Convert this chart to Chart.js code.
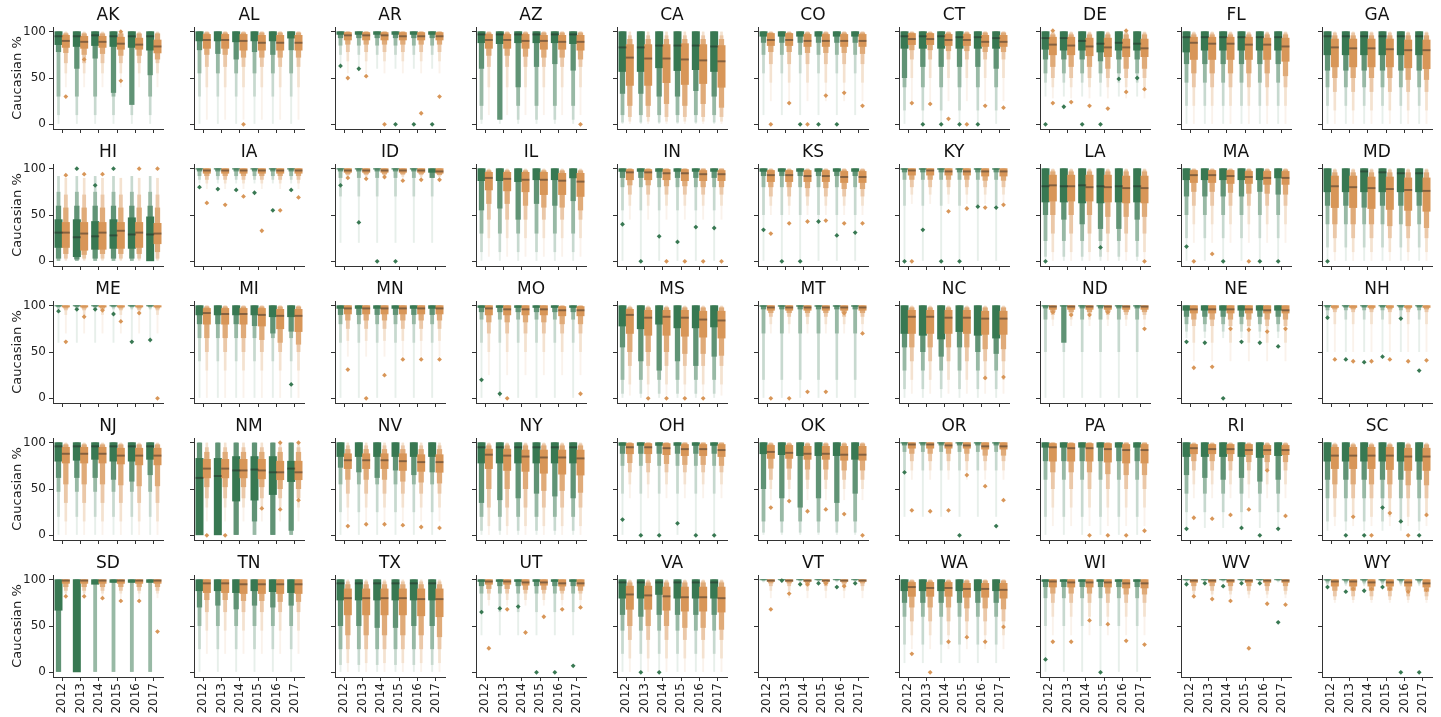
<!DOCTYPE html>
<html>
<head>
<meta charset="utf-8">
<script src="https://cdn.jsdelivr.net/npm/chart.js@4.4.1/dist/chart.umd.min.js"></script>
<style>
  body { margin: 0; background: #fff; }
  #wrap { position: relative; width: 1441px; height: 717px; overflow: hidden; background: #fff; }
  #wrap canvas { position: absolute; }
</style>
</head>
<body>
<div id="wrap"></div>
<script>
const states = ['AK','AL','AR','AZ','CA','CO','CT','DE','FL','GA',
                'HI','IA','ID','IL','IN','KS','KY','LA','MA','MD',
                'ME','MI','MN','MO','MS','MT','NC','ND','NE','NH',
                'NJ','NM','NV','NY','OH','OK','OR','PA','RI','SC',
                'SD','TN','TX','UT','VA','VT','WA','WI','WV','WY'];
const years = ['2012','2013','2014','2015','2016','2017'];
const yTicks = [0, 50, 100];

// per state, per year: [level-2 low, box low, median, box high]
const greenBox = [
  [[78,86,95,100],[60,84,95,100],[71,85,96,100],[34,84,95,100],[21,83,95,100],[53,80,95,100]], // AK
  [[80,90,100,100],[76,90,100,100],[70,89,100,100],[78,90,100,100],[75,90,100,100],[80,93,100,100]], // AL
  [[93,97,100,100],[93,97,100,100],[93,97,100,100],[93,97,100,100],[93,97,100,100],[93,97,100,100]], // AR
  [[60,88,97,100],[5,87,97,100],[40,88,97,100],[62,88,97,100],[65,88,97,100],[58,87,97,100]], // AZ
  [[33,57,83,100],[33,57,83,100],[30,61,85,100],[30,58,85,100],[36,59,85,100],[30,57,84,100]], // CA
  [[88,95,100,100],[88,95,100,100],[88,95,100,100],[88,95,100,100],[88,95,100,100],[88,95,100,100]], // CO
  [[50,82,95,100],[62,82,95,100],[62,82,95,100],[62,82,94,100],[62,82,94,100],[60,82,93,100]], // CT
  [[70,81,93,100],[70,80,93,100],[70,80,90,100],[68,78,87,100],[70,80,88,100],[70,80,87,100]], // DE
  [[65,78,94,100],[65,80,94,100],[65,80,94,100],[65,80,94,100],[65,80,94,100],[65,80,94,100]], // FL
  [[58,75,95,100],[58,75,95,100],[58,75,95,100],[58,75,95,100],[58,75,95,100],[58,75,95,100]], // GA
  [[3,15,31,45],[2,5,26,45],[3,13,27,43],[3,14,28,45],[3,14,29,47],[0,0,29,48]], // HI
  [[97,99.5,100,100],[97,99.5,100,100],[97,99.5,100,100],[97,99.5,100,100],[97,99.5,100,100],[97,99.5,100,100]], // IA
  [[97,99.5,100,100],[97,99.5,100,100],[97,99.5,100,100],[97,99.5,100,100],[97,99.5,100,100],[90,96,100,100]], // ID
  [[55,87,100,100],[57,87,100,100],[45,86,100,100],[62,88,100,100],[60,88,100,100],[65,90,100,100]], // IL
  [[90,97,100,100],[90,97,100,100],[90,97,100,100],[90,97,100,100],[90,97,100,100],[90,97,100,100]], // IN
  [[92,97,100,100],[92,97,100,100],[92,97,100,100],[92,97,100,100],[92,97,100,100],[92,97,100,100]], // KS
  [[96,99.3,100,100],[96,99.3,100,100],[96,99.3,100,100],[96,99.3,100,100],[96,99.3,100,100],[96,99.3,100,100]], // KY
  [[50,64,81,100],[45,64,81,100],[40,63,82,100],[35,63,81,100],[35,64,81,100],[45,64,81,100]], // LA
  [[70,88,100,100],[70,88,100,100],[70,88,100,100],[70,88,100,100],[75,88,100,100],[72,90,100,100]], // MA
  [[60,75,100,100],[60,75,100,100],[58,75,97,100],[60,75,96,100],[60,75,95,100],[60,75,95,100]], // MD
  [[99,99.7,100,100],[99,99.7,100,100],[99,99.7,100,100],[99,99.7,100,100],[99,99.7,100,100],[99,99.7,100,100]], // ME
  [[80,90,100,100],[80,90,100,100],[80,90,100,100],[78,90,100,100],[70,88,100,100],[72,88,100,100]], // MI
  [[90,97,100,100],[90,97,100,100],[90,97,100,100],[90,97,100,100],[90,97,100,100],[90,97,100,100]], // MN
  [[93,98,100,100],[93,98,100,100],[93,98,100,100],[93,98,100,100],[93,98,100,100],[93,98,100,100]], // MO
  [[55,78,100,100],[40,75,100,100],[30,80,100,100],[40,76,100,100],[35,76,100,100],[45,77,100,100]], // MS
  [[96,99.3,100,100],[96,99.3,100,100],[96,99.3,100,100],[96,99.3,100,100],[96,99.3,100,100],[96,99.3,100,100]], // MT
  [[55,70,100,100],[50,68,100,100],[45,64,100,100],[55,72,100,100],[50,68,100,100],[48,65,100,100]], // NC
  [[97,99.5,100,100],[60,99.5,100,100],[97,99.5,100,100],[97,99.5,100,100],[97,99.5,100,100],[97,99.5,100,100]], // ND
  [[88,95,100,100],[88,95,100,100],[88,95,100,100],[88,95,100,100],[88,95,100,100],[88,95,100,100]], // NE
  [[98,99.7,100,100],[98,99.7,100,100],[98,99.7,100,100],[98,99.7,100,100],[98,99.7,100,100],[98,99.7,100,100]], // NH
  [[62,80,96,100],[62,81,96,100],[62,82,96,100],[60,80,96,100],[58,80,96,100],[65,82,96,100]], // NJ
  [[0,0,62,83],[0,0,64,83],[0,37,70,85],[15,38,71,85],[0,44,68,85],[5,58,72,80]], // NM
  [[73,85,100,100],[68,85,100,100],[62,85,100,100],[70,85,100,100],[65,85,100,100],[68,85,100,100]], // NV
  [[35,78,95,100],[38,78,95,100],[40,78,95,100],[45,78,95,100],[42,78,95,100],[40,78,95,100]], // NY
  [[88,97,100,100],[88,97,100,100],[88,97,100,100],[88,97,100,100],[88,97,100,100],[88,97,100,100]], // OH
  [[50,88,100,100],[40,87,100,100],[30,86,100,100],[40,86,100,100],[35,86,100,100],[45,82,100,100]], // OK
  [[97,99.5,100,100],[97,99.5,100,100],[97,99.5,100,100],[97,99.5,100,100],[97,99.5,100,100],[97,99.5,100,100]], // OR
  [[80,95,100,100],[80,95,100,100],[80,95,100,100],[80,95,100,100],[80,95,100,100],[80,95,100,100]], // PA
  [[65,85,100,100],[62,85,100,100],[60,85,100,100],[62,85,100,100],[58,84,100,100],[60,86,100,100]], // RI
  [[60,80,100,100],[60,80,100,100],[60,80,100,100],[60,80,100,100],[60,80,100,100],[60,80,100,100]], // SC
  [[0,67,100,100],[0,0,100,100],[97,95,100,100],[97,97,100,100],[97,97,100,100],[97,97,100,100]], // SD
  [[70,88,100,100],[72,88,100,100],[68,86,100,100],[72,88,100,100],[70,87,100,100],[72,86,100,100]], // TN
  [[50,78,96,100],[50,78,96,100],[48,78,96,100],[48,78,96,100],[50,78,96,100],[50,78,96,100]], // TX
  [[93,98,100,100],[93,98,100,100],[93,98,100,100],[93,98,100,100],[93,98,100,100],[93,98,100,100]], // UT
  [[62,80,97,100],[60,80,97,100],[62,84,97,100],[62,80,97,100],[62,80,97,100],[62,80,97,100]], // VA
  [[99.5,99.8,100,100],[99.5,99.8,100,100],[99.5,99.8,100,100],[99.5,99.8,100,100],[99.5,99.8,100,100],[99.5,99.8,100,100]], // VT
  [[75,88,100,100],[75,88,100,100],[75,88,100,100],[75,88,100,100],[75,88,100,100],[75,88,100,100]], // WA
  [[92,98,100,100],[92,98,100,100],[92,98,100,100],[92,98,100,100],[92,98,100,100],[92,98,100,100]], // WI
  [[99.5,99.8,100,100],[99.5,99.8,100,100],[99.5,99.8,100,100],[99.5,99.8,100,100],[99.5,99.8,100,100],[99.5,99.8,100,100]], // WV
  [[99,99.7,100,100],[99,99.7,100,100],[99,99.7,100,100],[99,99.7,100,100],[99,99.7,100,100],[99,99.7,100,100]] // WY
];
// per state: [level-3 low, level-4 low, min, level-2 high, level-3 high, max]
const greenTail = [
  [30,10,0,100,100,100],[55,30,0,100,100,100],[85,75,60,100,100,100],[20,5,0,100,100,100],[10,2,0,100,100,100],
  [75,55,10,100,100,100],[40,15,0,100,100,100],[55,45,30,100,100,100],[45,20,0,100,100,100],[40,20,0,100,100,100],
  [0,0,0,60,75,92],[92,88,84,100,100,100],[90,70,20,100,100,100],[30,10,0,100,100,100],[80,55,0,100,100,100],
  [80,50,0,100,100,100],[88,60,0,100,100,100],[22,5,0,100,100,100],[50,25,0,100,100,100],[40,15,0,100,100,100],
  [98,96,60,100,100,100],[65,40,0,100,100,100],[80,60,0,100,100,100],[85,60,0,100,100,100],[20,5,0,100,100,100],
  [70,20,0,100,100,100],[30,10,0,100,100,100],[85,50,0,100,100,100],[80,72,65,100,100,100],[95,85,50,100,100,100],
  [47,20,0,100,100,100],[0,0,0,100,100,100],[55,25,0,100,100,100],[20,5,0,100,100,100],[75,45,0,100,100,100],
  [15,3,0,100,100,100],[90,70,20,100,100,100],[60,20,0,100,100,100],[45,25,8,100,100,100],[40,15,5,100,100,100],
  [0,0,0,100,100,100],[50,25,0,100,100,100],[25,8,0,100,100,100],[85,65,40,100,100,100],[45,20,0,100,100,100],
  [99,98,97,100,100,100],[60,30,10,100,100,100],[80,50,0,100,100,100],[99,98,97,100,100,100],[97,95,93,100,100,100]
];
const orangeBox = [
  [[77,83,90,96],[75,82,89,95],[76,83,89,95],[74,81,87,94],[74,81,86,93],[70,77,84,91]], // AK
  [[75,82,91,97],[75,82,91,97],[72,80,90,97],[72,80,88,96],[72,80,88,96],[72,80,88,96]], // AL
  [[86,91,96,99],[86,91,96,99],[86,91,96,99],[86,91,95,99],[86,91,95,99],[86,91,95,99]], // AR
  [[74,82,91,97],[74,82,91,97],[73,82,90,97],[72,81,90,96],[72,81,89,96],[70,80,89,96]], // AZ
  [[20,42,72,86],[20,42,71,86],[22,45,71,86],[20,43,70,87],[22,44,69,86],[18,40,68,85]], // CA
  [[78,85,91,98],[78,85,91,98],[77,84,90,97],[77,84,90,97],[77,84,90,97],[76,84,90,97]], // CO
  [[80,86,92,98],[80,86,92,98],[79,85,91,97],[79,85,91,97],[78,84,89,96],[78,84,89,96]], // CT
  [[62,75,86,94],[62,75,85,94],[62,74,84,93],[60,73,83,93],[60,73,83,92],[60,73,82,92]], // DE
  [[55,70,88,94],[55,70,87,94],[55,70,87,94],[55,70,86,94],[55,70,86,93],[52,68,84,93]], // FL
  [[50,62,83,92],[50,62,82,92],[50,62,82,92],[50,62,81,92],[48,61,80,91],[48,60,80,91]], // GA
  [[8,15,31,42],[7,12,30,42],[8,13,31,42],[8,14,33,42],[8,15,31,42],[10,19,30,41]], // HI
  [[92,95,98,100],[92,95,98,100],[92,95,98,100],[92,95,98,100],[92,95,98,100],[92,95,98,100]], // IA
  [[94,96,98,100],[94,96,98,100],[94,96,98,100],[94,96,98,100],[94,96,98,100],[93,95,97,100]], // ID
  [[62,77,90,96],[62,76,89,96],[60,75,88,96],[58,72,88,96],[58,72,87,95],[55,70,86,95]], // IL
  [[82,88,96,99],[82,88,96,99],[81,88,95,99],[81,87,95,99],[80,87,94,98],[80,87,94,98]], // IN
  [[80,86,93,98],[80,86,93,98],[79,86,92,98],[79,86,92,98],[78,85,91,97],[78,85,91,97]], // KS
  [[88,93,98,100],[88,93,98,100],[88,93,97,100],[88,93,97,100],[87,92,97,100],[87,92,97,100]], // KY
  [[50,65,82,93],[50,65,81,93],[50,65,80,93],[48,64,80,93],[48,63,79,92],[48,63,79,92]], // LA
  [[75,85,93,98],[75,85,93,98],[74,84,92,98],[73,84,91,97],[73,83,90,97],[72,83,90,97]], // MA
  [[40,58,81,92],[40,58,80,92],[40,57,79,91],[38,56,78,91],[38,55,77,90],[36,54,76,90]], // MD
  [[97,98.5,99.5,100],[97,98.5,99.5,100],[97,98.5,99.5,100],[97,98.5,99.5,100],[97,98.5,99.5,100],[97,98.5,99.5,100]], // ME
  [[65,80,92,97],[65,80,91,97],[65,80,91,97],[63,78,90,97],[60,75,89,96],[58,72,89,96]], // MI
  [[84,91,97,100],[84,91,97,100],[84,91,97,100],[84,91,97,100],[84,91,97,100],[84,91,97,100]], // MN
  [[82,90,97,100],[82,90,96,100],[82,90,96,100],[82,90,96,100],[80,89,95,99],[80,89,95,99]], // MO
  [[50,70,90,96],[50,68,87,95],[50,68,88,95],[48,67,87,95],[48,66,85,94],[46,65,84,94]], // MS
  [[92,95,98,100],[92,95,98,100],[92,95,98,100],[92,95,98,100],[92,95,98,100],[92,95,98,100]], // MT
  [[55,70,88,95],[55,70,88,95],[55,70,87,95],[55,70,87,95],[53,69,86,94],[53,69,86,94]], // NC
  [[93,96,99,100],[93,96,99,100],[93,96,99,100],[93,96,99,100],[93,96,99,100],[93,96,99,100]], // ND
  [[85,92,96,100],[85,92,96,100],[85,92,96,100],[85,92,96,100],[85,92,95,100],[85,92,95,100]], // NE
  [[96,98,99.5,100],[96,98,99.5,100],[96,98,99.5,100],[96,98,99.5,100],[96,98,99.5,100],[96,98,99.5,100]], // NH
  [[55,78,88,95],[55,78,88,95],[55,78,88,95],[54,77,86,94],[53,76,86,94],[53,76,86,94]], // NJ
  [[52,62,72,82],[52,62,72,82],[52,62,70,82],[52,61,70,82],[50,60,68,80],[50,60,68,80]], // NM
  [[60,72,81,88],[60,72,81,88],[60,72,81,88],[58,70,80,88],[57,69,79,87],[56,68,79,87]], // NV
  [[50,72,87,93],[50,70,86,93],[50,69,85,92],[48,67,84,92],[48,66,84,92],[46,65,83,92]], // NY
  [[78,88,95,99],[78,88,95,99],[77,87,94,99],[76,86,93,98],[76,86,93,98],[75,85,92,98]], // OH
  [[72,83,90,97],[72,83,89,97],[71,82,88,96],[71,82,88,96],[70,81,87,96],[70,81,87,96]], // OK
  [[88,94,98,100],[88,94,98,100],[88,94,97,100],[88,94,97,100],[86,93,96,100],[86,93,96,100]], // OR
  [[68,80,95,99],[68,80,94,99],[68,80,94,99],[66,79,93,99],[65,78,92,98],[65,78,92,98]], // PA
  [[80,88,94,98],[80,88,93,98],[80,88,93,98],[79,87,92,98],[79,87,92,97],[79,87,92,97]], // RI
  [[55,72,86,95],[55,72,86,95],[55,72,86,95],[55,71,86,95],[54,70,85,94],[54,70,85,94]], // SC
  [[92,96,99,100],[92,96,99,100],[92,96,99,100],[92,96,99,100],[92,96,99,100],[92,96,99,100]], // SD
  [[78,86,96,100],[78,86,96,100],[77,85,95,100],[77,85,95,100],[76,85,95,100],[76,85,95,100]], // TN
  [[40,62,80,90],[40,62,80,90],[40,62,80,90],[40,62,80,90],[40,61,79,90],[38,60,79,90]], // TX
  [[90,95,98,100],[90,95,98,100],[89,94,97,100],[89,94,97,100],[88,93,96,100],[88,93,96,100]], // UT
  [[50,68,84,93],[50,68,83,93],[50,67,82,92],[48,66,81,92],[48,66,81,92],[46,65,80,92]], // VA
  [[96,98,99,100],[96,98,99,100],[96,98,99,100],[96,98,99,100],[96,98,99,100],[96,98,99,100]], // VT
  [[70,82,92,97],[70,82,91,97],[70,82,91,97],[69,81,90,96],[69,81,90,96],[68,80,89,96]], // WA
  [[85,92,98,100],[85,92,97,100],[85,92,97,100],[85,92,97,100],[84,91,96,100],[84,91,96,100]], // WI
  [[93,97,99,100],[93,97,99,100],[93,97,99,100],[93,97,99,100],[93,97,99,100],[93,97,99,100]], // WV
  [[88,93,98,100],[88,93,98,100],[88,93,97,100],[88,93,97,100],[88,93,97,100],[87,92,96,100]] // WY
];
const orangeTail = [
  [66,55,40,98,99,100],[62,40,5,99,100,100],[78,68,55,100,100,100],[62,40,10,99,100,100],[8,3,0,92,96,100],
  [65,45,25,99,100,100],[70,50,25,99,100,100],[50,40,28,97,99,100],[40,20,0,97,99,100],[35,15,0,96,99,100],
  [3,1,0,58,72,90],[88,84,78,100,100,100],[93,91,89,100,100,100],[45,25,5,98,99,100],[72,60,45,100,100,100],
  [70,60,50,99,100,100],[80,72,62,100,100,100],[30,10,0,97,99,100],[60,40,20,99,100,100],[25,10,0,96,99,100],
  [95,90,70,100,100,100],[50,30,0,99,100,100],[75,62,45,100,100,100],[70,50,25,100,100,100],[35,15,3,98,99,100],
  [88,80,70,100,100,100],[40,20,5,98,99,100],[90,85,78,100,100,100],[78,60,40,100,100,100],[93,80,50,100,100,100],
  [35,15,0,98,99,100],[40,30,15,90,95,100],[45,30,15,93,97,100],[30,10,0,97,99,100],[68,55,40,100,100,100],
  [60,50,38,99,100,100],[80,70,60,100,100,100],[50,30,10,100,100,100],[70,55,40,99,100,100],[40,20,10,98,99,100],
  [88,85,80,100,100,100],[65,45,20,100,100,100],[25,10,0,95,98,100],[85,78,72,100,100,100],[35,15,0,97,99,100],
  [93,88,80,100,100,100],[55,40,25,99,100,100],[75,60,40,100,100,100],[88,84,80,100,100,100],[82,78,75,100,100,100]
];

// outliers: [state, year index, value]
const greenOut = [
  ['AR',0,63],['AR',1,60],['AR',3,0],['AR',4,0],['AR',5,0],
  ['CO',2,0],['CO',3,0],['CO',4,0],
  ['CT',1,0],['CT',2,0],['CT',3,0],['CT',4,0],
  ['DE',0,0],['DE',1,19],['DE',2,0],['DE',3,0],['DE',4,49],['DE',5,50],
  ['HI',1,100],['HI',2,82],['HI',3,100],
  ['IA',0,80],['IA',1,78],['IA',2,77],['IA',3,74],['IA',4,55],['IA',5,77],
  ['ID',0,82],['ID',1,42],['ID',2,0],['ID',3,0],
  ['IN',0,40],['IN',1,0],['IN',2,27],['IN',3,21],['IN',4,37],['IN',5,36],
  ['KS',0,34],['KS',1,0],['KS',2,0],['KS',3,43],['KS',4,28],['KS',5,31],
  ['KY',0,0],['KY',1,34],['KY',2,0],['KY',3,0],['KY',4,59],['KY',5,58],
  ['LA',0,0],['LA',3,15],
  ['MA',0,16],['MA',2,0],['MA',4,0],['MA',5,0],
  ['MD',0,0],
  ['ME',0,94],['ME',1,96],['ME',2,96],['ME',3,91],['ME',4,61],['ME',5,63],
  ['MI',5,15],
  ['MO',0,20],['MO',1,5],
  ['NE',0,61],['NE',1,60],['NE',2,0],['NE',3,61],['NE',4,60],['NE',5,56],
  ['NH',0,87],['NH',1,42],['NH',2,39],['NH',3,45],['NH',4,86],['NH',5,30],
  ['OH',0,17],['OH',1,0],['OH',2,0],['OH',3,13],['OH',4,0],['OH',5,0],
  ['OR',0,68],['OR',3,0],['OR',5,10],
  ['RI',0,7],['RI',3,8],['RI',4,0],['RI',5,7],
  ['SC',1,0],['SC',2,0],['SC',3,30],['SC',4,15],['SC',5,0],
  ['UT',0,65],['UT',1,69],['UT',2,71],['UT',3,0],['UT',4,0],['UT',5,7],
  ['VA',1,0],['VA',2,0],
  ['VT',1,99],['VT',2,95],['VT',3,96],['VT',4,92],['VT',5,96],
  ['WI',0,14],['WI',3,0],
  ['WV',0,95],['WV',1,96],['WV',2,93],['WV',3,96],['WV',4,96],['WV',5,54],
  ['WY',0,92],['WY',1,87],['WY',2,88],['WY',3,92],['WY',4,0],['WY',5,0]
];
const orangeOut = [
  ['AK',0,30],['AK',1,70],['AK',3,47],['AK',3,100],
  ['AL',2,0],
  ['AR',0,50],['AR',1,52],['AR',2,0],['AR',4,12],['AR',5,30],
  ['AZ',5,0],
  ['CO',0,0],['CO',1,23],['CO',2,0],['CO',3,31],['CO',4,34],['CO',5,20],
  ['CT',0,23],['CT',1,22],['CT',2,6],['CT',3,0],['CT',4,20],['CT',5,18],
  ['DE',0,23],['DE',0,101],['DE',1,24],['DE',2,20],['DE',3,17],['DE',4,35],['DE',4,101],['DE',5,38],
  ['HI',0,93],['HI',1,94],['HI',2,94],['HI',4,100],['HI',5,100],
  ['IA',0,63],['IA',1,61],['IA',2,70],['IA',3,33],['IA',4,55],['IA',5,69],
  ['ID',0,90],['ID',1,89],['ID',2,91],['ID',3,87],['ID',4,88],['ID',5,88],
  ['IN',2,0],['IN',3,0],['IN',4,0],['IN',5,0],
  ['KS',0,30],['KS',1,41],['KS',2,43],['KS',3,44],['KS',4,41],['KS',5,41],
  ['KY',0,0],['KY',2,54],['KY',3,57],['KY',4,58],['KY',5,61],
  ['LA',5,0],
  ['MA',0,0],['MA',1,8],['MA',3,0],
  ['ME',0,61],['ME',1,88],['ME',2,95],['ME',3,83],['ME',4,92],['ME',5,0],
  ['MN',0,31],['MN',1,0],['MN',2,25],['MN',3,42],['MN',4,42],['MN',5,42],
  ['MO',1,0],['MO',5,5],
  ['MS',1,0],['MS',2,0],['MS',3,0],['MS',4,0],
  ['MT',0,0],['MT',1,0],['MT',2,7],['MT',3,7],['MT',4,92],['MT',5,70],
  ['NC',4,22],['NC',5,23],
  ['ND',0,93],['ND',1,90],['ND',2,90],['ND',3,93],['ND',5,75],
  ['NE',0,33],['NE',1,34],['NE',2,75],['NE',3,74],['NE',4,72],['NE',5,75],
  ['NH',0,42],['NH',1,40],['NH',2,40],['NH',3,42],['NH',4,40],['NH',5,41],
  ['NM',0,0],['NM',1,0],['NM',3,29],['NM',4,28],['NM',4,100],['NM',5,38],['NM',5,100],
  ['NV',0,10],['NV',1,12],['NV',2,12],['NV',3,11],['NV',4,9],['NV',5,8],
  ['OK',0,30],['OK',1,37],['OK',2,26],['OK',3,28],['OK',4,23],['OK',5,0],
  ['OR',0,27],['OR',1,26],['OR',2,27],['OR',3,65],['OR',4,53],['OR',5,38],
  ['PA',2,0],['PA',3,0],['PA',4,0],['PA',5,5],
  ['RI',0,19],['RI',1,18],['RI',2,22],['RI',3,28],['RI',4,70],['RI',5,21],
  ['SC',1,20],['SC',2,0],['SC',3,24],['SC',4,0],['SC',5,22],
  ['SD',0,82],['SD',1,82],['SD',2,80],['SD',3,77],['SD',4,77],['SD',5,44],
  ['UT',0,26],['UT',1,68],['UT',2,43],['UT',3,60],['UT',4,68],['UT',5,70],
  ['VT',0,68],['VT',1,85],['VT',2,95],['VT',3,96],['VT',4,93],
  ['WA',0,20],['WA',1,0],['WA',2,33],['WA',3,38],['WA',4,33],['WA',5,49],
  ['WI',0,33],['WI',1,33],['WI',2,56],['WI',3,52],['WI',4,34],['WI',5,30],
  ['WV',0,82],['WV',1,79],['WV',2,77],['WV',3,26],['WV',4,74],['WV',5,73],
  ['WY',1,90],['WY',2,90],['WY',3,90],['WY',4,87],['WY',5,89]
];

Chart.defaults.font.family = "'DejaVu Sans', sans-serif";
Chart.defaults.color = '#222';

const GREEN = [56, 120, 82];
const ORANGE = [216, 150, 88];
const levelShade = [1, 0.8, 0.52, 0.28, 0.12];
const levelWidth = [1, 0.72, 0.52, 0.36, 0.26];
const OFF = 0.2;

function shade(rgb, t) {
  const c = rgb.map(v => Math.round(255 - (255 - v) * t));
  return 'rgb(' + c.join(',') + ')';
}

function levelRange(box, tail, k) {
  const [l2, l1, , h1] = box;
  const [l3, l4, mn, h2, h3, mx] = tail;
  return [[l1, h1], [l2, h2], [l3, h3], [l4, mx], [mn, mx]][k];
}

const wrap = document.getElementById('wrap');
const axisColor = '#333';

function makePanel(si) {
  const st = states[si];
  const row = Math.floor(si / 10), col = si % 10;
  const yW = col === 0 ? 53 : 8;
  const xH = row === 4 ? 44 : 5;
  const titleH = 20;
  const plotLeft = 53 + 141 * col;
  const plotTop = Math.round(27 + 137.1 * row);

  const canvas = document.createElement('canvas');
  canvas.width = yW + 110 + 4;
  canvas.height = titleH + 102 + xH;
  canvas.style.left = (plotLeft - yW) + 'px';
  canvas.style.top = (plotTop - titleH) + 'px';
  wrap.appendChild(canvas);

  const hueColor = (ctx, t) => ctx.dataIndex % 2 ? shade(ORANGE, t) : shade(GREEN, t);
  const datasets = [];

  datasets.push({
    type: 'scatter',
    data: greenOut.filter(o => o[0] === st).map(o => ({x: o[1] - OFF, y: o[2]})),
    pointStyle: 'rectRot', pointRadius: 2.4, pointBorderWidth: 0,
    pointBackgroundColor: shade(GREEN, 1)
  });
  datasets.push({
    type: 'scatter',
    data: orangeOut.filter(o => o[0] === st).map(o => ({x: o[1] + OFF, y: o[2]})),
    pointStyle: 'rectRot', pointRadius: 2.4, pointBorderWidth: 0,
    pointBackgroundColor: shade(ORANGE, 1)
  });

  const medians = [];
  years.forEach((y, i) => {
    const gm = greenBox[si][i][2], om = orangeBox[si][i][2];
    if (gm < 99.5) medians.push({x: i - OFF, y: [gm - 0.7, gm + 0.7]});
    if (om < 99.5) medians.push({x: i + OFF, y: [om - 0.7, om + 0.7]});
  });
  datasets.push({
    type: 'bar', data: medians, grouped: false,
    barPercentage: 1, categoryPercentage: 1,
    backgroundColor: 'rgba(30,30,30,0.45)', borderWidth: 0
  });

  for (let k = 0; k < 5; k++) {
    const data = [];
    years.forEach((y, i) => {
      data.push({x: i - OFF, y: levelRange(greenBox[si][i], greenTail[si], k)});
      data.push({x: i + OFF, y: levelRange(orangeBox[si][i], orangeTail[si], k)});
    });
    datasets.push({
      type: 'bar', data, grouped: false,
      barPercentage: levelWidth[k], categoryPercentage: 1,
      backgroundColor: ctx => hueColor(ctx, levelShade[k]),
      borderWidth: 0
    });
  }

  new Chart(canvas, {
    type: 'bar',
    data: { datasets },
    options: {
      responsive: false,
      animation: false,
      events: [],
      layout: { padding: { top: 0, right: 4, bottom: 0, left: 0 } },
      plugins: {
        legend: { display: false },
        tooltip: { enabled: false },
        title: {
          display: true, text: st, fullSize: false, color: '#111',
          font: { size: 17, weight: 'normal', lineHeight: 1 },
          padding: { top: 0, bottom: 3 }
        }
      },
      scales: {
        x: {
          type: 'linear', min: -0.5, max: 5.5, offset: false,
          afterBuildTicks: a => { a.ticks = years.map((y, i) => ({ value: i })); },
          afterFit: a => { a.height = xH; a.paddingLeft = 0; a.paddingRight = 0; },
          ticks: {
            display: row === 4, autoSkip: false,
            callback: v => years[v],
            minRotation: 90, maxRotation: 90,
            font: { size: 12 }, color: '#222', padding: 2
          },
          grid: { offset: false, drawOnChartArea: false, drawTicks: true, tickLength: 4, color: axisColor },
          border: { display: true, color: axisColor, width: 1 }
        },
        y: {
          type: 'linear', min: -5, max: 105,
          afterBuildTicks: a => { a.ticks = yTicks.map(v => ({ value: v })); },
          afterFit: a => { a.width = yW; a.paddingTop = 0; a.paddingBottom = 0; },
          ticks: { display: col === 0, font: { size: 12 }, color: '#222', padding: 3 },
          grid: { drawOnChartArea: false, drawTicks: true, tickLength: 4, color: axisColor },
          border: { display: true, color: axisColor, width: 1 },
          title: {
            display: col === 0, text: 'Caucasian %', color: '#222',
            font: { size: 13 }, padding: { top: 10, bottom: 0 }
          }
        }
      }
    }
  });
}

states.forEach((s, i) => makePanel(i));
</script>
</body>
</html>
